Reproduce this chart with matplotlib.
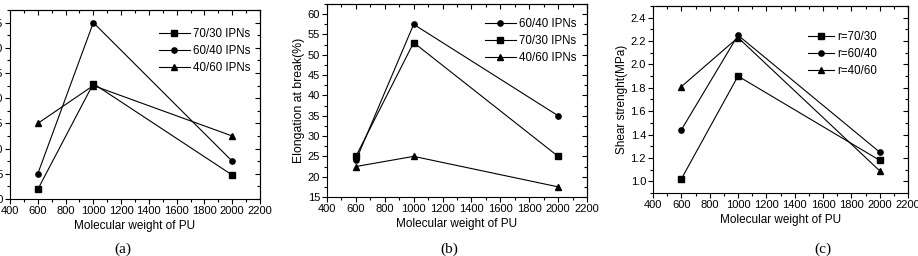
import matplotlib.pyplot as plt
from matplotlib.ticker import MultipleLocator

plt.rcParams['font.family'] = ['Liberation Sans', 'DejaVu Sans']

# 分子量
mw = [600, 1000, 2000]

# (a) 拉伸强度
a_7030 = [11.9, 32.9, 14.75]
a_6040 = [15.0, 45.0, 17.5]
a_4060 = [25.0, 32.5, 22.5]

# (b) 断裂伸长率
b_6040 = [24.0, 57.5, 35.0]
b_7030 = [25.0, 53.0, 25.0]
b_4060 = [22.5, 25.0, 17.5]

# (c) 剪切强度
c_7030 = [1.02, 1.90, 1.18]
c_6040 = [1.44, 2.25, 1.25]
c_4060 = [1.81, 2.23, 1.09]

W, H = 918, 256
fig = plt.figure(figsize=(W / 100, H / 100), dpi=100)


def make_ax(x0, y0, x1, y1):
    # 像素坐标 -> figure坐标
    ax = fig.add_axes([x0 / W, 1 - y1 / H, (x1 - x0) / W, (y1 - y0) / H])
    return ax


def style(ax, ymajor, yminor):
    ax.set_xlim(400, 2200)
    ax.xaxis.set_major_locator(MultipleLocator(200))
    ax.xaxis.set_minor_locator(MultipleLocator(100))
    ax.yaxis.set_major_locator(MultipleLocator(ymajor))
    ax.yaxis.set_minor_locator(MultipleLocator(yminor))
    ax.tick_params(which='both', direction='out', labelsize=8, width=0.8, pad=1.5)
    ax.tick_params(which='major', length=3.5)
    ax.tick_params(which='minor', length=2)
    for s in ax.spines.values():
        s.set_linewidth(0.8)
    # 上、右两边的刻度朝内
    top = ax.secondary_xaxis('top')
    top.xaxis.set_major_locator(MultipleLocator(200))
    top.xaxis.set_minor_locator(MultipleLocator(100))
    top.tick_params(which='both', direction='in', labeltop=False, width=0.8)
    top.tick_params(which='major', length=3.5)
    top.tick_params(which='minor', length=2)
    right = ax.secondary_yaxis('right')
    right.yaxis.set_major_locator(MultipleLocator(ymajor))
    right.yaxis.set_minor_locator(MultipleLocator(yminor))
    right.tick_params(which='both', direction='in', labelright=False, width=0.8)
    right.tick_params(which='major', length=3.5)
    right.tick_params(which='minor', length=2)


kw = dict(color='black', lw=0.8, ms=3.8)
leg_kw = dict(frameon=False, fontsize=8.3, handlelength=2.7,
              labelspacing=0.45, handletextpad=0.3, borderpad=0)
cap_kw = dict(family='Liberation Serif', fontsize=11, ha='center', va='center')

# (a)
ax1 = make_ax(10, 10, 260, 199)
ax1.plot(mw, a_7030, marker='s', label='70/30 IPNs', **kw)
ax1.plot(mw, a_6040, marker='o', label='60/40 IPNs', **kw)
ax1.plot(mw, a_4060, marker='^', label='40/60 IPNs', **kw)
ax1.set_ylim(10, 47.5)
style(ax1, 5, 2.5)
ax1.set_xlabel('Molecular weight of PU', fontsize=8.5, labelpad=3)
ax1.legend(loc='upper left', bbox_to_anchor=(153 / W, 1 - 22 / H),
           bbox_transform=fig.transFigure, **leg_kw)
fig.text(123 / W, 1 - 249 / H, '(a)', **cap_kw)

# (b)
ax2 = make_ax(327, 4, 587, 197)
ax2.plot(mw, b_6040, marker='o', label='60/40 IPNs', **kw)
ax2.plot(mw, b_7030, marker='s', label='70/30 IPNs', **kw)
ax2.plot(mw, b_4060, marker='^', label='40/60 IPNs', **kw)
ax2.set_ylim(15, 62.5)
style(ax2, 5, 2.5)
ax2.set_xlabel('Molecular weight of PU', fontsize=8.5, labelpad=3)
ax2.set_ylabel('Elongation at break(%)', fontsize=8.8, labelpad=2)
ax2.legend(loc='upper left', bbox_to_anchor=(479 / W, 1 - 12 / H),
           bbox_transform=fig.transFigure, **leg_kw)
fig.text(449 / W, 1 - 249 / H, '(b)', **cap_kw)

# (c)
ax3 = make_ax(653, 6, 908, 193)
ax3.plot(mw, c_7030, marker='s', label='r=70/30', **kw)
ax3.plot(mw, c_6040, marker='o', label='r=60/40', **kw)
ax3.plot(mw, c_4060, marker='^', label='r=40/60', **kw)
ax3.set_ylim(0.9, 2.5)
style(ax3, 0.2, 0.1)
ax3.set_xlabel('Molecular weight of PU', fontsize=8.5, labelpad=3)
ax3.set_ylabel('Shear strenght(MPa)', fontsize=8.5, labelpad=2)
ax3.legend(loc='upper left', bbox_to_anchor=(802 / W, 1 - 25 / H),
           bbox_transform=fig.transFigure, handlelength=2.3,
           **{k: v for k, v in leg_kw.items() if k != 'handlelength'})
fig.text(823 / W, 1 - 249 / H, '(c)', **cap_kw)

fig.savefig('out.png', dpi=100)
